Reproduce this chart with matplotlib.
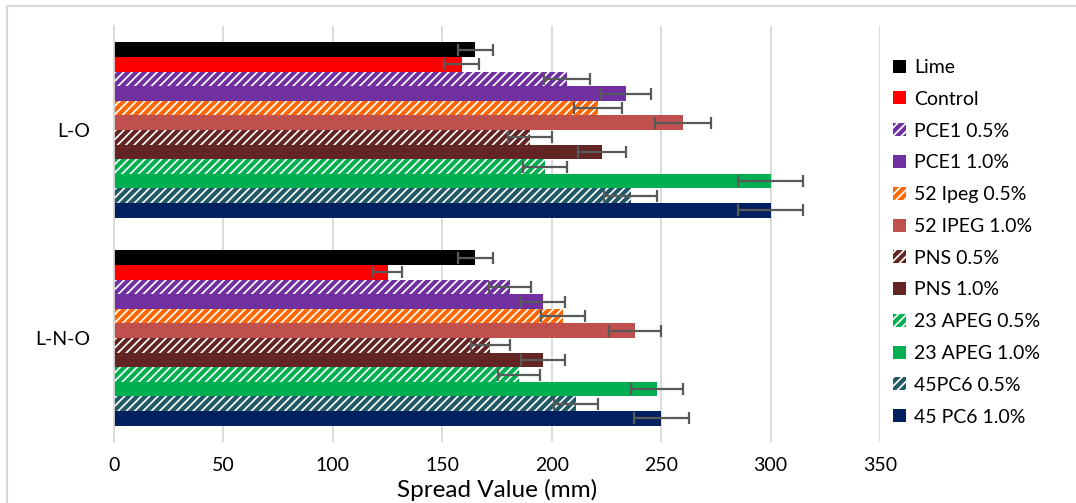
import numpy as np
import matplotlib
matplotlib.use("Agg")
import matplotlib.pyplot as plt
from matplotlib.patches import Patch, Rectangle

plt.rcParams['font.family'] = ['Lato', 'DejaVu Sans']
plt.rcParams['hatch.linewidth'] = 3.0

# data
groups = ['L-O', 'L-N-O']
series = ['Lime', 'Control', 'PCE1 0.5%', 'PCE1 1.0%', '52 Ipeg 0.5%', '52 IPEG 1.0%',
          'PNS 0.5%', 'PNS 1.0%', '23 APEG 0.5%', '23 APEG 1.0%', '45PC6 0.5%', '45 PC6 1.0%']
colors = ['#000000', '#FF0000', '#7030A0', '#7030A0', '#FF6600', '#C0504D',
          '#632523', '#632523', '#00B050', '#00B050', '#215967', '#002060']
hatched = [False, False, True, False, True, False, True, False, True, False, True, False]

lo_vals = [165, 159, 207, 234, 221, 260, 190, 223, 197, 300, 236, 300]
lno_vals = [165, 125, 181, 196, 205, 238, 172, 196, 185, 248, 211, 250]
lo_err = [8, 8, 10.5, 11.5, 11, 13, 10, 11, 10, 15, 12, 15]
lno_err = [8, 6.5, 9.5, 10, 10, 12, 9, 10, 9.5, 12, 10, 12.5]

vals = np.array([lo_vals, lno_vals])
errs = np.array([lo_err, lno_err])

W, H = 1076, 503
fig = plt.figure(figsize=(W / 100, H / 100), dpi=100)
ax = fig.add_axes([114 / W, 1 - 442 / H, (880 - 114) / W, (442 - 26) / H])

# figure border
fig.patches.append(Rectangle((7 / W, -0.05), 1.2, 1 - 6 / H + 0.05, transform=fig.transFigure,
                             fill=False, edgecolor='#D9D9D9', linewidth=1.5, zorder=0))

h = 14.6 / 208
yc = np.arange(len(groups))
for i, name in enumerate(series):
    y = yc + (i - 5.5) * h
    if hatched[i]:
        ax.barh(y, vals[:, i], height=h, color='white', edgecolor=colors[i],
                hatch='////', linewidth=0, zorder=2)
    else:
        ax.barh(y, vals[:, i], height=h, color=colors[i], linewidth=0, zorder=2)
    ax.errorbar(vals[:, i], y, xerr=errs[:, i], fmt='none', ecolor='#595959',
                elinewidth=1.6, capsize=4.3, capthick=1.6, zorder=3)

ax.set_xlim(0, 350)
ax.set_ylim(1.5, -0.5)
ax.set_xticks(np.arange(0, 351, 50))
ax.set_yticks(yc)
ax.set_yticklabels(groups)
ax.tick_params(axis='both', length=0, labelsize=14)
ax.tick_params(axis='y', pad=17)
ax.tick_params(axis='x', pad=11)
ax.grid(axis='x', color='#D9D9D9', linewidth=1.3, zorder=0)
ax.set_axisbelow(True)
for s in ['top', 'right', 'bottom']:
    ax.spines[s].set_visible(False)
ax.spines['left'].set_color('#D9D9D9')
ax.spines['left'].set_linewidth(1.3)

fig.text(497 / W, 1 - 490 / H, 'Spread Value (mm)', ha='center', va='center', fontsize=17.5)

handles = []
for i, name in enumerate(series):
    if hatched[i]:
        handles.append(Patch(facecolor='white', edgecolor=colors[i], hatch='////', linewidth=0, label=name))
    else:
        handles.append(Patch(facecolor=colors[i], linewidth=0, label=name))
fig.legend(handles=handles, loc='upper left', bbox_to_anchor=(893 / W, 1 - 59 / H),
           frameon=False, fontsize=14, handlelength=0.65, handleheight=0.65,
           handletextpad=0.45, labelspacing=0.76, borderaxespad=0, borderpad=0)

fig.savefig('out.png', dpi=100)
